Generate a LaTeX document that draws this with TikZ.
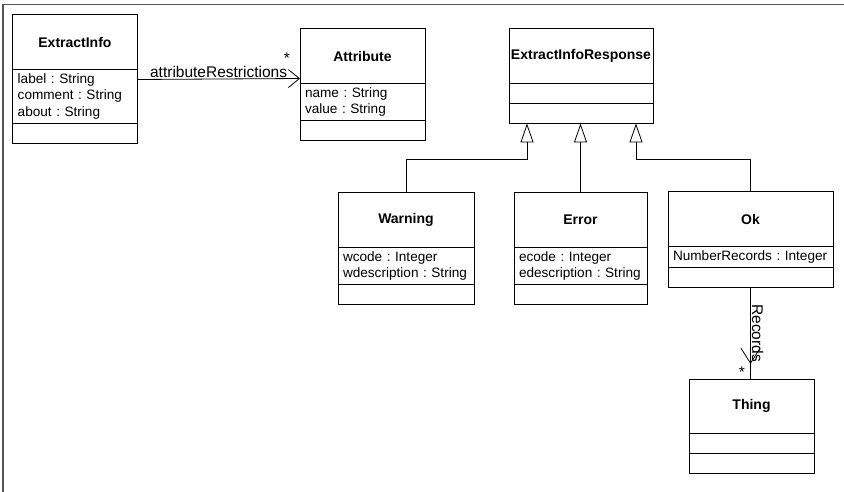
\documentclass[tikz,border=0pt]{standalone}
\usepackage{fontspec}
\setmainfont{Liberation Sans}
\usepackage{tikz}
\usetikzlibrary{positioning,arrows.meta,decorations.markings}
\definecolor{framegray}{RGB}{85,85,85}

\begin{document}
\begin{tikzpicture}[x=1pt, y=-1pt,
    every node/.style={outer sep=0pt},
    classname/.style={draw, line width=1pt, minimum height=54.5pt, inner sep=0pt,
      font=\fontsize{14}{16.5}\selectfont\bfseries},
    classattrs/.style={draw, line width=1pt, align=left, inner xsep=5pt, inner ysep=4pt,
      font=\fontsize{13.6}{16.5}\selectfont},
    classempty/.style={draw, line width=1pt, minimum height=20pt, inner sep=0pt},
    inherit/.style={line width=0.8pt, -{Triangle[open, length=19pt, width=13pt]}},
    assoc/.style={line width=0.8pt, -{Straight Barb[length=11pt, width=18pt]}},
    rolename/.style={font=\fontsize{15.5}{18}\selectfont, inner sep=1.5pt},
  ]
    \useasboundingbox (0,0) rectangle (844,492);
    \draw[line width=1.5pt, framegray] (3,492) -- (3,4.5) -- (844,4.5);

    % ExtractInfo
    \node[classname, minimum width=124.5pt, anchor=north west] (info) at (12.7,15) {ExtractInfo};
    \node[classattrs, text width=114.5pt, below=0pt of info] (info-attrs)
        {label~:~String\\comment~:~String\\about~:~String};
    \node[classempty, minimum width=124.5pt, below=0pt of info-attrs] (info-ops) {};

    % Attribute
    \node[classname, minimum width=125pt, anchor=north west] (attr) at (300,29) {Attribute};
    \node[classattrs, text width=115pt, below=0pt of attr] (attr-attrs)
        {name~:~String\\value~:~String};
    \node[classempty, minimum width=125pt, below=0pt of attr-attrs] (attr-ops) {};

    % ExtractInfoResponse
    \node[classname, minimum width=144pt, anchor=north west] (response) at (509,29) {ExtractInfoResponse};
    \node[classempty, minimum width=144pt, below=0pt of response] (response-attrs) {};
    \node[classempty, minimum width=144pt, below=0pt of response-attrs] (response-ops) {};

    % Warning, Error, Ok
    \node[classname, minimum width=136pt, anchor=north west] (warning) at (338,193) {Warning};
    \node[classattrs, text width=126pt, below=0pt of warning] (warning-attrs)
        {wcode~:~Integer\\wdescription~:~String};
    \node[classempty, minimum width=136pt, below=0pt of warning-attrs] (warning-ops) {};

    \node[classname, minimum width=133pt, anchor=north west] (error) at (514,193) {Error};
    \node[classattrs, text width=123pt, below=0pt of error] (error-attrs)
        {ecode~:~Integer\\edescription~:~String};
    \node[classempty, minimum width=133pt, below=0pt of error-attrs] (error-ops) {};

    \node[classname, minimum width=165pt, anchor=north west] (ok) at (668,192) {Ok};
    \node[classattrs, text width=155pt, below=0pt of ok] (ok-attrs)
        {NumberRecords~:~Integer};
    \node[classempty, minimum width=165pt, below=0pt of ok-attrs] (ok-ops) {};

    % Thing
    \node[classname, minimum width=125pt, anchor=north west] (thing) at (689,379) {Thing};
    \node[classempty, minimum width=125pt, below=0pt of thing] (thing-attrs) {};
    \node[classempty, minimum width=125pt, below=0pt of thing-attrs] (thing-ops) {};

    % generalisations
    \draw[inherit] (warning.north) -- ++(0,-34) -| ([xshift=-54pt]response-ops.south);
    \draw[inherit] (error.north) -- (error.north |- response-ops.south);
    \draw[inherit] (ok.north) -- ++(0,-33) -| ([xshift=55pt]response-ops.south);

    % associations
    \draw[assoc] ([yshift=-10pt]info-attrs.north east) -- node[rolename, above] (restr) {attributeRestrictions}
        ([yshift=5pt]attr.south west);
    \node[rolename] (restr-mult) at (287,58) {*};

    \draw[line width=0.8pt, postaction={decorate},
        decoration={markings, mark=at position -15pt with {\arrow{Straight Barb[length=15pt, width=19pt]}}}]
        (ok-ops.south) -- node[rolename, rotate=-90, anchor=south] (records) {Records}
        (ok-ops.south |- thing.north);
    \node[rolename] (records-mult) at (742,372) {*};
\end{tikzpicture}
\end{document}
